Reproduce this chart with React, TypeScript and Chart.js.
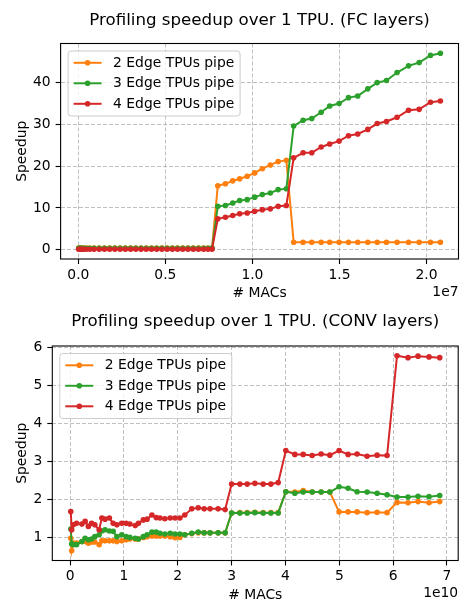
import React, { useEffect, useRef } from "react";
import { Chart, registerables } from "chart.js";

Chart.register(...registerables);

const FONT = '"DejaVu Sans", Verdana, sans-serif';
const SERIES_LABELS = ["2 Edge TPUs pipe", "3 Edge TPUs pipe", "4 Edge TPUs pipe"];
const SERIES_COLORS = ["#ff7f0e", "#2ca02c", "#d62728"];

// ---------- FC layers (x in units of 1e7 MACs) ----------
const fcMacs = [
  0.002, 0.006, 0.012, 0.02, 0.03, 0.045, 0.065, 0.09, 0.12, 0.15,
  0.18, 0.21, 0.24, 0.27, 0.3, 0.33, 0.36, 0.39, 0.42, 0.45,
  0.48, 0.51, 0.54, 0.57, 0.6, 0.63, 0.66, 0.69, 0.72, 0.745, 0.768,
  0.801, 0.845, 0.887, 0.927, 0.97, 1.013, 1.057, 1.103, 1.148, 1.195,
  1.237, 1.291, 1.341, 1.395, 1.444, 1.498, 1.552, 1.605, 1.663, 1.717,
  1.77, 1.831, 1.897, 1.958, 2.023, 2.08,
];
const fcTpu2 = [
  0.4, 0.4, 0.4, 0.4, 0.4, 0.4, 0.4, 0.4, 0.4, 0.4,
  0.4, 0.4, 0.4, 0.4, 0.4, 0.4, 0.4, 0.4, 0.4, 0.4,
  0.4, 0.4, 0.4, 0.4, 0.4, 0.4, 0.4, 0.4, 0.4, 0.4, 0.4,
  15.3, 15.8, 16.5, 17.0, 17.6, 18.4, 19.4, 20.3, 21.1, 21.4,
  1.8, 1.8, 1.8, 1.8, 1.8, 1.8, 1.8, 1.8, 1.8, 1.8,
  1.8, 1.8, 1.8, 1.8, 1.8, 1.8,
];
const fcTpu3 = [
  0.35, 0.35, 0.35, 0.35, 0.35, 0.35, 0.35, 0.35, 0.35, 0.35,
  0.35, 0.35, 0.35, 0.35, 0.35, 0.35, 0.35, 0.35, 0.35, 0.35,
  0.35, 0.35, 0.35, 0.35, 0.35, 0.35, 0.35, 0.35, 0.35, 0.35, 0.35,
  10.4, 10.6, 11.2, 11.8, 12.0, 12.6, 13.2, 13.6, 14.4, 14.6,
  29.6, 31.0, 31.4, 32.9, 34.4, 35.0, 36.4, 36.8, 38.5, 40.0,
  40.5, 42.4, 44.0, 44.8, 46.5, 47.0,
];
const fcTpu4 = [
  0.15, 0.15, 0.15, 0.15, 0.15, 0.15, 0.15, 0.15, 0.15, 0.15,
  0.15, 0.15, 0.15, 0.15, 0.15, 0.15, 0.15, 0.15, 0.15, 0.15,
  0.15, 0.15, 0.15, 0.15, 0.15, 0.15, 0.15, 0.15, 0.15, 0.15, 0.15,
  7.4, 7.8, 8.2, 8.6, 8.8, 9.2, 9.6, 9.8, 10.4, 10.6,
  22.0, 23.2, 23.2, 24.6, 25.3, 26.0, 27.3, 27.7, 28.8, 30.2,
  30.7, 31.7, 33.4, 33.6, 35.3, 35.6,
];
const fcXTicks = [0, 0.5, 1.0, 1.5, 2.0];
const fcXTickLabels = ["0.0", "0.5", "1.0", "1.5", "2.0"];
const fcYTicks = [0, 10, 20, 30, 40];
const fcYTickLabels = ["0", "10", "20", "30", "40"];

// ---------- CONV layers (x in units of 1e10 MACs) ----------
const convMacs = [
  0.013, 0.03, 0.06, 0.12, 0.22, 0.28, 0.34, 0.4, 0.46, 0.54,
  0.59, 0.65, 0.73, 0.8, 0.87, 0.96, 1.04, 1.11, 1.21, 1.27,
  1.36, 1.43, 1.52, 1.6, 1.67, 1.76, 1.86, 1.95, 2.04, 2.13,
  2.26, 2.38, 2.49, 2.6, 2.75, 2.88, 3.0,
  3.154, 3.289, 3.432, 3.586, 3.729, 3.865,
  4.007, 4.174, 4.329, 4.496, 4.663, 4.824, 4.996, 5.163, 5.33, 5.516,
  5.702, 5.887, 6.072, 6.276, 6.462, 6.666, 6.865,
];
const convTpu2 = [
  0.99, 0.66, 0.86, 0.86, 0.9, 0.9, 0.86, 0.89, 0.89, 0.82,
  0.92, 0.92, 0.92, 0.92, 0.9, 0.92, 0.95, 0.97, 0.97, 0.97,
  1.01, 1.03, 1.05, 1.05, 1.05, 1.05, 1.03, 1.0, 1.01, 1.08,
  1.11, 1.13, 1.13, 1.13, 1.13, 1.13, 1.65,
  1.66, 1.66, 1.67, 1.66, 1.66, 1.66,
  2.21, 2.2, 2.24, 2.2, 2.2, 2.2, 1.68, 1.68, 1.68, 1.66,
  1.67, 1.66, 1.93, 1.92, 1.95, 1.92, 1.95,
];
const convTpu3 = [
  1.23, 0.84, 0.82, 0.82, 0.9, 0.99, 0.95, 0.97, 1.03, 1.08,
  1.18, 1.21, 1.18, 1.17, 1.03, 1.08, 1.03, 1.01, 0.99, 0.97,
  1.03, 1.08, 1.15, 1.15, 1.12, 1.1, 1.12, 1.1, 1.1, 1.08,
  1.12, 1.15, 1.13, 1.13, 1.13, 1.13, 1.65,
  1.65, 1.65, 1.66, 1.65, 1.65, 1.65,
  2.21, 2.17, 2.2, 2.2, 2.2, 2.2, 2.34, 2.3, 2.21, 2.2,
  2.17, 2.13, 2.07, 2.07, 2.09, 2.08, 2.11,
];
const convTpu4 = [
  1.69, 1.21, 1.34, 1.38, 1.36, 1.43, 1.3, 1.38, 1.34, 1.21,
  1.52, 1.49, 1.52, 1.38, 1.34, 1.38, 1.38, 1.36, 1.32, 1.38,
  1.47, 1.49, 1.6, 1.53, 1.52, 1.5, 1.52, 1.52, 1.52, 1.6,
  1.76, 1.79, 1.76, 1.76, 1.76, 1.74, 2.41,
  2.41, 2.41, 2.43, 2.41, 2.41, 2.45,
  3.29, 3.19, 3.19, 3.16, 3.2, 3.17, 3.29, 3.19, 3.2, 3.14,
  3.17, 3.16, 5.78, 5.73, 5.77, 5.75, 5.73,
];
const convXTicks = [0, 1, 2, 3, 4, 5, 6, 7];
const convXTickLabels = ["0", "1", "2", "3", "4", "5", "6", "7"];
const convYTicks = [1, 2, 3, 4, 5, 6];
const convYTickLabels = ["1", "2", "3", "4", "5", "6"];

const W = 469;
const H = 302;

const decorPlugin = {
  id: "decor",
  afterDraw(chart: any, _args: any, opts: any) {
    const { ctx, chartArea: a } = chart;
    ctx.save();
    ctx.setLineDash([]);
    // frame
    ctx.strokeStyle = "#000";
    ctx.lineWidth = 1.1;
    ctx.strokeRect(a.left, a.top, a.right - a.left, a.bottom - a.top);
    // title
    ctx.fillStyle = "#000";
    ctx.font = `16.67px ${FONT}`;
    ctx.textAlign = "center";
    ctx.textBaseline = "alphabetic";
    ctx.fillText(opts.title, (a.left + a.right) / 2, opts.titleY);
    // x label
    ctx.font = `13.89px ${FONT}`;
    ctx.textBaseline = "middle";
    ctx.fillText("# MACs", (a.left + a.right) / 2, opts.xLabelY);
    ctx.textAlign = "right";
    ctx.fillText(opts.offset, a.right, opts.offsetY);
    // y label
    ctx.save();
    ctx.translate(opts.yLabelX, (a.top + a.bottom) / 2);
    ctx.rotate(-Math.PI / 2);
    ctx.textAlign = "center";
    ctx.fillText("Speedup", 0, 0);
    ctx.restore();
    // legend
    const bx = a.left + 7.5;
    const by = a.top + 7.5;
    const bw = 172;
    const bh = 65;
    ctx.beginPath();
    ctx.roundRect(bx, by, bw, bh, 3);
    ctx.fillStyle = "rgba(255,255,255,0.8)";
    ctx.fill();
    ctx.strokeStyle = "#cccccc";
    ctx.lineWidth = 1;
    ctx.stroke();
    SERIES_LABELS.forEach((lab, i) => {
      const y = by + 11.8 + i * 20.5;
      ctx.strokeStyle = SERIES_COLORS[i];
      ctx.lineWidth = 2;
      ctx.beginPath();
      ctx.moveTo(bx + 5.5, y);
      ctx.lineTo(bx + 33.5, y);
      ctx.stroke();
      ctx.fillStyle = SERIES_COLORS[i];
      ctx.beginPath();
      ctx.arc(bx + 19.5, y, 2.8, 0, Math.PI * 2);
      ctx.fill();
      ctx.fillStyle = "#000";
      ctx.textAlign = "left";
      ctx.textBaseline = "middle";
      ctx.fillText(lab, bx + 45, y + 0.5);
    });
    ctx.restore();
  },
};

type Spec = {
  title: string;
  offset: string;
  x: number[];
  series: number[][];
  xTicks: number[];
  xTickLabels: string[];
  yTicks: number[];
  yTickLabels: string[];
  xMin: number;
  xMax: number;
  yMin: number;
  yMax: number;
  padTop: number;
  yAxisW: number;
  xAxisH: number;
  padRight: number;
  titleY: number;
  xLabelY: number;
  offsetY: number;
  yLabelX: number;
};

function makeConfig(s: Spec): any {
  const tickFont = { family: FONT, size: 13.89 };
  const grid = {
    color: "#b0b0b0",
    lineWidth: 0.8,
    tickColor: "#000",
    tickLength: 5,
    tickWidth: 1.1,
  };
  return {
    type: "line",
    data: {
      datasets: s.series.map((vals, i) => ({
        label: SERIES_LABELS[i],
        data: s.x.map((xv, j) => ({ x: xv, y: vals[j] })),
        borderColor: SERIES_COLORS[i],
        backgroundColor: SERIES_COLORS[i],
        pointBackgroundColor: SERIES_COLORS[i],
        pointBorderWidth: 0,
        pointRadius: 2.8,
        borderWidth: 2,
        tension: 0,
        fill: false,
        order: 2 - i,
      })),
    },
    options: {
      responsive: false,
      animation: false,
      devicePixelRatio: 1,
      layout: { padding: { top: s.padTop, right: s.padRight, left: 0, bottom: 0 } },
      plugins: {
        legend: { display: false },
        title: { display: false },
        tooltip: { enabled: false },
        decor: {
          title: s.title,
          offset: s.offset,
          titleY: s.titleY,
          xLabelY: s.xLabelY,
          offsetY: s.offsetY,
          yLabelX: s.yLabelX,
        },
      },
      scales: {
        x: {
          type: "linear",
          min: s.xMin,
          max: s.xMax,
          afterFit: (sc: any) => {
            sc.height = s.xAxisH;
          },
          afterBuildTicks: (sc: any) => {
            sc.ticks = s.xTicks.map((v) => ({ value: v }));
          },
          ticks: {
            callback: (_v: any, i: number) => s.xTickLabels[i],
            color: "#000",
            font: tickFont,
            padding: 3,
            maxRotation: 0,
            autoSkip: false,
          },
          grid,
          border: { display: false, dash: [4, 2] },
        },
        y: {
          type: "linear",
          min: s.yMin,
          max: s.yMax,
          afterFit: (sc: any) => {
            sc.width = s.yAxisW;
          },
          afterBuildTicks: (sc: any) => {
            sc.ticks = s.yTicks.map((v) => ({ value: v }));
          },
          ticks: {
            callback: (_v: any, i: number) => s.yTickLabels[i],
            color: "#000",
            font: tickFont,
            padding: 5,
            autoSkip: false,
          },
          grid,
          border: { display: false, dash: [4, 2] },
        },
      },
    },
    plugins: [decorPlugin],
  };
}

const fcSpec: Spec = {
  title: "Profiling speedup over 1 TPU. (FC layers)",
  offset: "1e7",
  x: fcMacs,
  series: [fcTpu2, fcTpu3, fcTpu4],
  xTicks: fcXTicks,
  xTickLabels: fcXTickLabels,
  yTicks: fcYTicks,
  yTickLabels: fcYTickLabels,
  xMin: -0.102,
  xMax: 2.184,
  yMin: -2.2,
  yMax: 49.35,
  padTop: 43.5,
  yAxisW: 60.6,
  xAxisH: 43,
  padRight: 10.5,
  titleY: 25,
  xLabelY: 293,
  offsetY: 292,
  yLabelX: 22,
};

const convSpec: Spec = {
  title: "Profiling speedup over 1 TPU. (CONV layers)",
  offset: "1e10",
  x: convMacs,
  series: [convTpu2, convTpu3, convTpu4],
  xTicks: convXTicks,
  xTickLabels: convXTickLabels,
  yTicks: convYTicks,
  yTickLabels: convYTickLabels,
  xMin: -0.33,
  xMax: 7.208,
  yMin: 0.404,
  yMax: 6.036,
  padTop: 44,
  yAxisW: 52.3,
  xAxisH: 43.5,
  padRight: 10.8,
  titleY: 24,
  xLabelY: 293,
  offsetY: 291,
  yLabelX: 22,
};

function ChartCanvas({ spec }: { spec: Spec }) {
  const ref = useRef<HTMLCanvasElement | null>(null);
  useEffect(() => {
    if (!ref.current) return;
    const chart = new Chart(ref.current, makeConfig(spec));
    return () => chart.destroy();
  }, [spec]);
  return <canvas ref={ref} width={W} height={H} style={{ display: "block", width: W, height: H }} />;
}

export default function App() {
  return (
    <div style={{ position: "fixed", left: 0, top: 0, width: W, height: 604, background: "#fff" }}>
      <ChartCanvas spec={fcSpec} />
      <ChartCanvas spec={convSpec} />
    </div>
  );
}
